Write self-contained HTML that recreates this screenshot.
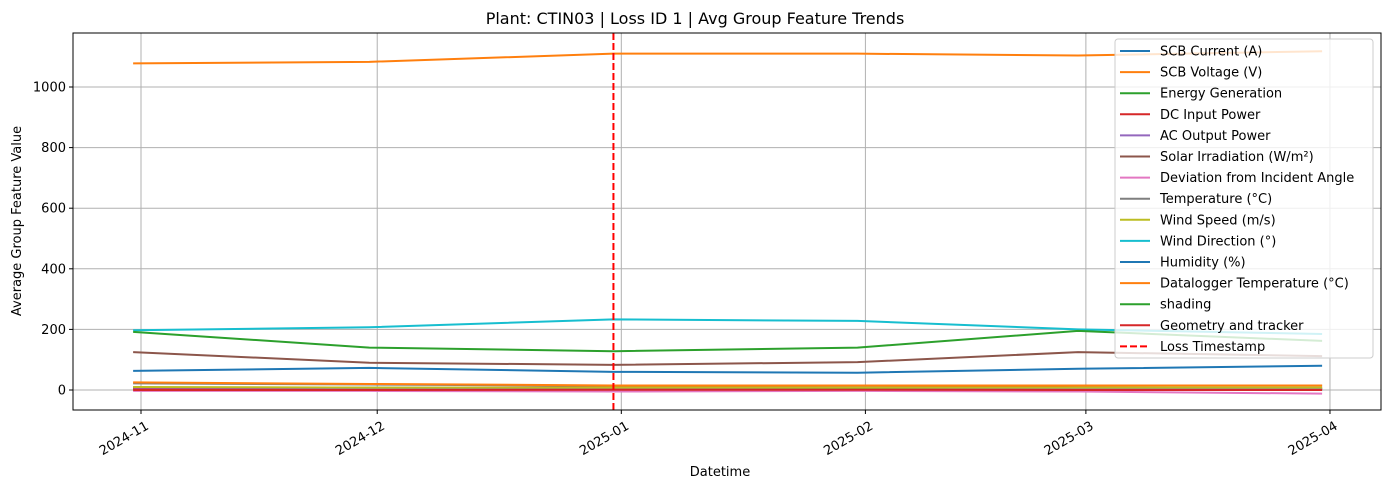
<!DOCTYPE html>
<html><head><meta charset="utf-8"><style>
body{margin:0;background:#fff}
svg text{font-family:"DejaVu Sans","Liberation Sans",sans-serif;fill:#000}
</style></head><body>
<svg width="1389" height="490" viewBox="0 0 1389 490" id="chart">
<rect width="1389" height="490" fill="#fff"/>
<text x="695" y="24" font-size="16" text-anchor="middle">Plant: CTIN03 | Loss ID 1 | Avg Group Feature Trends</text>
<g id="grid"></g><g id="series"></g><g id="axes"></g><g id="legend"></g>
<text x="720" y="476" font-size="13" text-anchor="middle">Datetime</text>
<text transform="translate(21,221) rotate(-90)" font-size="13" text-anchor="middle">Average Group Feature Value</text>
</svg>
<script>
const dates=["2024-10-31","2024-11-30","2024-12-31","2025-01-31","2025-02-28","2025-03-31"];
const names=["SCB Current (A)","SCB Voltage (V)","Energy Generation","DC Input Power","AC Output Power","Solar Irradiation (W/m²)","Deviation from Incident Angle","Temperature (°C)","Wind Speed (m/s)","Wind Direction (°)","Humidity (%)","Datalogger Temperature (°C)","shading","Geometry and tracker"];
const colors=["#1f77b4","#ff7f0e","#2ca02c","#d62728","#9467bd","#8c564b","#e377c2","#7f7f7f","#bcbd22","#17becf","#1f77b4","#ff7f0e","#2ca02c","#d62728"];
const s0=[8,8,7,7,7,7];
const s1=[1078,1083,1110,1110,1104,1118];
const s2=[3,3,2,2,2,2];
const s3=[5,5,10,14,8,4];
const s4=[2,2,5,8,5,2];
const s5=[125,90,83,92,125,112];
const s6=[-3,-3,-5,-3,-5,-12];
const s7=[22,18,14,15,15,15];
const s8=[10,8,8,8,8,8];
const s9=[197,207,233,228,200,185];
const s10=[63,73,60,57,70,80];
const s11=[25,20,15,15,15,15];
const s12=[192,140,128,140,195,162];
const s13=[0,0,1,1,0,0];
const series=[s0,s1,s2,s3,s4,s5,s6,s7,s8,s9,s10,s11,s12,s13];
const xTicks=["2024-11-01","2024-12-01","2025-01-01","2025-02-01","2025-03-01","2025-04-01"];
const xTickLabels=["2024-11","2024-12","2025-01","2025-02","2025-03","2025-04"];
const yTicks=[0,200,400,600,800,1000];
const lossDate="2024-12-31";
const NS="http://www.w3.org/2000/svg";
const L=73,R=1381,T=33,B=410;
const t0=Date.parse("2024-11-01");
function xs(d){return 141+(Date.parse(d)-t0)/864e5*7.874;}
function ys(v){return 390-v*0.303;}
function mk(tag,at,parent){const e=document.createElementNS(NS,tag);for(const k in at)e.setAttribute(k,at[k]);parent.appendChild(e);return e;}
const g=document.getElementById('grid'),sg=document.getElementById('series'),ax=document.getElementById('axes'),lg=document.getElementById('legend');
xTicks.forEach((d,i)=>{const x=xs(d);
 const l=mk('line',{x1:x,x2:x,y1:T,y2:B,stroke:'#b0b0b0','stroke-width':1},g);
 
 
 mk('line',{x1:x,x2:x,y1:B,y2:B+4,stroke:'#000'},ax);
 const t=mk('text',{x:x+6,y:B+19,'font-size':13,'text-anchor':'end',transform:`rotate(-30 ${x+6} ${B+14})`},ax);
 t.textContent=xTickLabels[i];
 
 });
yTicks.forEach(v=>{const y=ys(v);
 const l=mk('line',{x1:L,x2:R,y1:y,y2:y,stroke:'#b0b0b0','stroke-width':1},g);
 
 
 mk('line',{x1:L-4,x2:L,y1:y,y2:y,stroke:'#000'},ax);
 const t=mk('text',{x:L-7,y:y+4.5,'font-size':13,'text-anchor':'end'},ax);
 t.textContent=v;
 
 });
series.forEach((s,i)=>{const p=mk('polyline',{points:s.map((v,j)=>xs(dates[j])+','+ys(v)).join(' '),fill:'none',stroke:colors[i],'stroke-width':2},sg);
 
 });
const lx=xs(lossDate);
const ll=mk('line',{x1:lx,x2:lx,y1:T,y2:B,stroke:'#ff0000','stroke-width':2,'stroke-dasharray':'7,3'},sg);


const fr=mk('rect',{x:L,y:T,width:R-L,height:B-T,fill:'none',stroke:'#000','stroke-width':1},ax);


const box=mk('rect',{x:1115,y:39,width:258,height:319,rx:3,fill:'#fff','fill-opacity':0.8,stroke:'#ccc'},lg);


const entries=names.concat(["Loss Timestamp"]);
entries.forEach((n,i)=>{const y=51+i*21.1;
 const ln=mk('line',{x1:1120,x2:1150,y1:y,y2:y,stroke:i<14?colors[i]:'#ff0000','stroke-width':2},lg);
 if(i==14)ln.setAttribute('stroke-dasharray','7,3');
 const t=mk('text',{x:1160,y:y+4.5,'font-size':13},lg);
 t.textContent=n;
 
 });
</script>
</body></html>
